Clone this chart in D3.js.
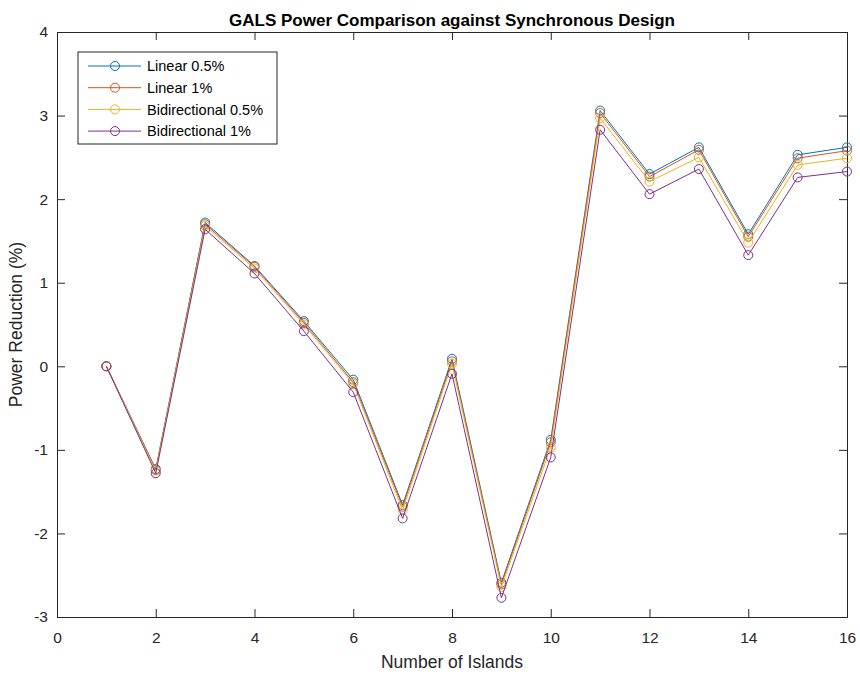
<!DOCTYPE html>
<html><head><meta charset="utf-8">
<script src="https://cdn.jsdelivr.net/npm/d3@7"></script>
<style>body{margin:0;background:#fff}svg{display:block}text{font-family:"Liberation Sans",Arial,Helvetica,sans-serif}</style>
</head><body><svg id="c" width="860" height="675"></svg>
<script>
const islands = [1,2,3,4,5,6,7,8,9,10,11,12,13,14,15,16];
const linear05 = [0,-1.23,1.72,1.20,0.54,-0.16,-1.66,0.09,-2.59,-0.88,3.06,2.30,2.62,1.58,2.53,2.62];
const linear1  = [0,-1.24,1.70,1.19,0.52,-0.19,-1.68,0.06,-2.61,-0.91,3.03,2.27,2.59,1.55,2.49,2.58];
const bidir05  = [0,-1.25,1.68,1.17,0.50,-0.21,-1.72,0.03,-2.64,-0.97,2.97,2.21,2.50,1.48,2.41,2.49];
const bidir1   = [0,-1.28,1.64,1.11,0.42,-0.31,-1.82,-0.09,-2.77,-1.09,2.83,2.06,2.36,1.33,2.26,2.33];
const seriesNames = ["Linear 0.5%","Linear 1%","Bidirectional 0.5%","Bidirectional 1%"];
const xTicks = [0,2,4,6,8,10,12,14,16];
const yTicks = [-3,-2,-1,0,1,2,3,4];
const colors = ["#0072BD","#D95319","#EDB120","#7E2F8E"];
const seriesVals = [linear05, linear1, bidir05, bidir1];

const L=57, R=847, T=32, B=617;
const svg = d3.select("#c");
const x = d3.scaleLinear().domain([0,16]).range([L,R]);
const y = d3.scaleLinear().domain([-3,4]).range([B,T]);
const axisCol = "#262626";
const tl = 8;
const fmt = d => String(d);

// axes
const gx = svg.append("g").attr("transform",`translate(0,${B})`)
  .call(d3.axisBottom(x).tickValues(xTicks).tickSize(-tl).tickPadding(tl+7).tickFormat(fmt));
const gxt = svg.append("g").attr("transform",`translate(0,${T})`)
  .call(d3.axisTop(x).tickValues(xTicks).tickSize(-tl).tickFormat(""));
const gy = svg.append("g").attr("transform",`translate(${L},0)`)
  .call(d3.axisLeft(y).tickValues(yTicks).tickSize(-tl).tickPadding(tl+1).tickFormat(fmt));
const gyr = svg.append("g").attr("transform",`translate(${R},0)`)
  .call(d3.axisRight(y).tickValues(yTicks).tickSize(-tl).tickFormat(""));
[gx,gxt,gy,gyr].forEach(g=>{
  g.select(".domain").attr("stroke",axisCol).attr("stroke-width",1);
  g.selectAll(".tick line").attr("stroke",axisCol).attr("stroke-width",1);
  g.selectAll(".tick text").attr("fill",axisCol).attr("font-size",15.5);
});

// lines
const line = d3.line().x((d,i)=>x(islands[i])).y(d=>y(d));
seriesVals.forEach((vals,k)=>{
  const g = svg.append("g");
  g.append("path").datum(vals).attr("d",line).attr("fill","none")
    .attr("stroke",colors[k]).attr("stroke-width",1);
  g.selectAll("circle").data(vals).join("circle")
    .attr("cx",(d,i)=>x(islands[i])).attr("cy",d=>y(d)).attr("r",4.5)
    .attr("fill","none").attr("stroke",colors[k]).attr("stroke-width",1);
});

// title & labels
svg.append("text").attr("x",(L+R)/2).attr("y",26).attr("text-anchor","middle")
  .attr("font-weight","bold").attr("font-size",17).attr("fill","#000")
  .text("GALS Power Comparison against Synchronous Design");
svg.append("text").attr("x",(L+R)/2).attr("y",668).attr("text-anchor","middle")
  .attr("font-size",17.5).attr("fill",axisCol).text("Number of Islands");
svg.append("text").attr("transform",`translate(22,${(T+B)/2}) rotate(-90)`).attr("text-anchor","middle")
  .attr("font-size",17.5).attr("fill",axisCol).text("Power Reduction (%)");

// legend
const lg = svg.append("g");
lg.append("rect").attr("x",78).attr("y",52).attr("width",199).attr("height",92)
  .attr("fill","#fff").attr("stroke",axisCol).attr("stroke-width",1);
seriesNames.forEach((n,k)=>{
  const yy = 66 + k*21.7;
  lg.append("line").attr("x1",88).attr("x2",141).attr("y1",yy).attr("y2",yy)
    .attr("stroke",colors[k]).attr("stroke-width",1);
  lg.append("circle").attr("cx",115).attr("cy",yy).attr("r",4.5)
    .attr("fill","none").attr("stroke",colors[k]).attr("stroke-width",1);
  lg.append("text").attr("x",147).attr("y",yy+5.3).attr("font-size",14.5).attr("fill","#000").text(n);
});
</script></body></html>
